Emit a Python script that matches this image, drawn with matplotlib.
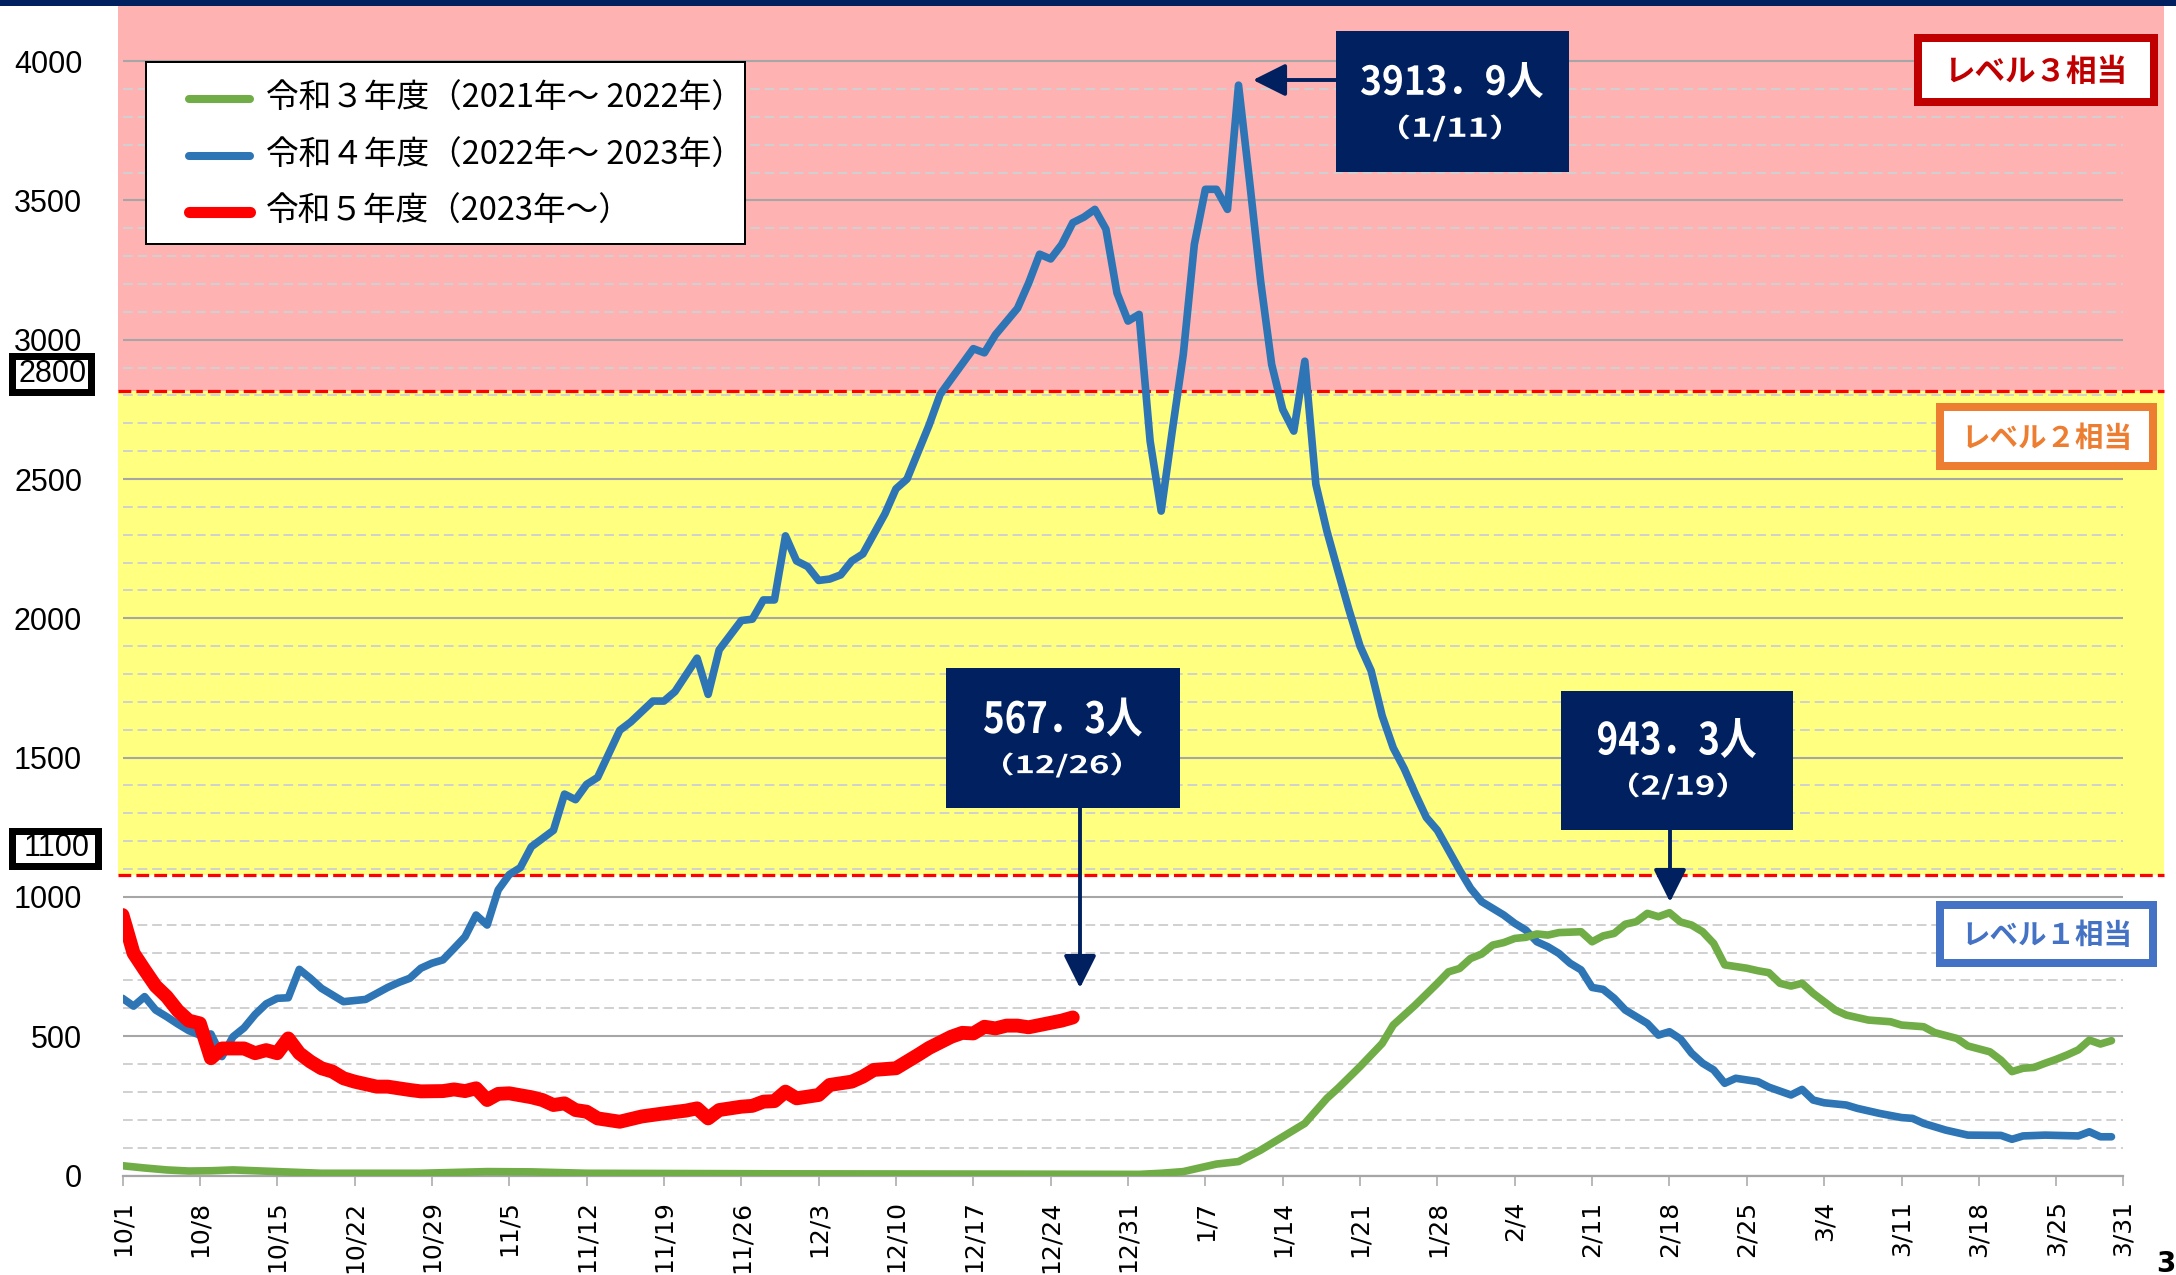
import matplotlib
matplotlib.use("Agg")
import matplotlib.pyplot as plt
from matplotlib.patches import Rectangle, FancyArrowPatch, ArrowStyle, PathPatch
from matplotlib.lines import Line2D
from matplotlib.textpath import TextPath
from matplotlib.font_manager import FontProperties
from matplotlib.transforms import blended_transform_factory, Affine2D, IdentityTransform
import numpy as np

W, H = 2176, 1275
JP = ["Noto Sans CJK JP", "DejaVu Sans"]

# one category per day, 10/1 .. 3/31
month_days = [(10, 31), (11, 30), (12, 31), (1, 31), (2, 28), (3, 31)]
dates = [f"{m}/{d}" for m, n in month_days for d in range(1, n + 1)]
tick_idx = list(range(0, len(dates), 7)) + [len(dates) - 1]

# (day index, value)
r3 = [(0, 35), (2, 27), (4, 20), (6, 16), (8, 17), (10, 20), (14, 14), (18, 8), (27, 8),
      (33, 14), (37, 13), (42, 8), (60, 6), (80, 5), (92, 4), (94, 8), (96, 14), (98, 32),
      (99, 41), (101, 50), (103, 91), (105, 139), (107, 187), (109, 277), (110, 313),
      (112, 391), (114, 474), (115, 540), (117, 612), (119, 690), (120, 731), (121, 743),
      (122, 779), (123, 795), (124, 827), (125, 836), (126, 851), (127, 855), (128, 867),
      (129, 863), (130, 872), (132, 875), (133, 839), (134, 860), (135, 869), (136, 902),
      (137, 911), (138, 941), (139, 929), (140, 943.3), (141, 910), (142, 899), (143, 875),
      (144, 833), (145, 756), (146, 750), (147, 744), (148, 735), (149, 728), (150, 690),
      (151, 680), (152, 690), (153, 654), (154, 624), (155, 594), (156, 576), (158, 558),
      (160, 552), (161, 540), (163, 534), (164, 513), (166, 492), (167, 465), (169, 444),
      (170, 414), (171, 373), (172, 385), (173, 388), (174, 403), (175, 417), (176, 433),
      (177, 451), (178, 486), (179, 472), (180, 484)]

r4 = [(0, 636), (1, 608), (2, 642), (3, 594), (4, 570), (5, 544), (6, 520), (7, 504),
      (8, 508), (9, 427), (10, 498), (11, 530), (12, 578), (13, 616), (14, 636), (15, 638),
      (16, 740), (17, 708), (18, 672), (19, 648), (20, 624), (22, 632), (24, 675), (25, 693),
      (26, 708), (27, 744), (28, 762), (29, 774), (30, 815), (31, 857), (32, 935), (33, 899),
      (34, 1025), (35, 1080), (36, 1105), (37, 1180), (39, 1239), (40, 1369), (41, 1349),
      (42, 1404), (43, 1429), (45, 1598), (46, 1628), (48, 1703), (49, 1703), (50, 1737),
      (52, 1857), (53, 1727), (54, 1887), (56, 1992), (57, 1997), (58, 2066), (59, 2066),
      (60, 2296), (61, 2206), (62, 2186), (63, 2136), (64, 2141), (65, 2156), (66, 2206),
      (67, 2231), (69, 2375), (70, 2465), (71, 2500), (73, 2694), (74, 2804), (75, 2859),
      (77, 2968), (78, 2953), (79, 3018), (81, 3113), (82, 3203), (83, 3307), (84, 3290),
      (85, 3342), (86, 3420), (87, 3440), (88, 3468), (89, 3397), (90, 3168), (91, 3067),
      (92, 3091), (93, 2636), (94, 2385), (95, 2672), (96, 2947), (97, 3342), (98, 3540),
      (99, 3540), (100, 3468), (101, 3913.9), (102, 3569), (103, 3210), (104, 2911),
      (105, 2750), (106, 2672), (107, 2923), (108, 2481), (109, 2313), (110, 2170),
      (111, 2030), (112, 1900), (113, 1812), (114, 1650), (115, 1535), (116, 1460),
      (117, 1370), (118, 1285), (119, 1239), (120, 1168), (121, 1097), (122, 1031),
      (123, 983), (125, 935), (126, 905), (127, 881), (128, 839), (129, 821), (130, 797),
      (131, 762), (132, 738), (133, 675), (134, 668), (135, 636), (136, 594), (137, 570),
      (138, 546), (139, 504), (140, 516), (141, 490), (142, 439), (143, 403), (144, 379),
      (145, 331), (146, 349), (148, 337), (149, 317), (151, 289), (152, 309), (153, 271),
      (154, 261), (156, 253), (157, 241), (159, 223), (161, 208), (162, 205), (163, 187),
      (165, 163), (167, 145), (170, 144), (171, 130), (172, 142), (174, 145), (177, 142),
      (178, 157), (179, 139), (180, 139)]

r5 = [(0, 935), (1, 798), (2, 738), (3, 680), (4, 642), (5, 592), (6, 556), (7, 546),
      (8, 421), (9, 456), (11, 456), (12, 439), (13, 450), (14, 439), (15, 492), (16, 439),
      (17, 409), (18, 385), (19, 373), (20, 349), (21, 337), (23, 319), (24, 319), (26, 307),
      (27, 302), (29, 303), (30, 309), (31, 303), (32, 313), (33, 271), (34, 293), (35, 295),
      (37, 281), (38, 271), (39, 253), (40, 259), (41, 235), (42, 229), (43, 205), (45, 193),
      (47, 212), (49, 223), (51, 233), (52, 241), (53, 205), (54, 235), (56, 247), (57, 250),
      (58, 265), (59, 267), (60, 301), (61, 277), (63, 289), (64, 325), (66, 337), (67, 355),
      (68, 379), (70, 385), (72, 433), (73, 458), (75, 498), (76, 512), (77, 510), (78, 534),
      (79, 528), (80, 538), (81, 538), (82, 532), (83, 540), (85, 556), (86, 567.3)]

labels = ["令和３年度（2021年～ 2022年）", "令和４年度（2022年～ 2023年）", "令和５年度（2023年～）"]
colors = ["#70AD47", "#2E75B6", "#FF0000"]

band_lo, band_hi = 1080, 2815      # drawn level borders
level_ticks = ["2800", "1100"]
level_names = ["レベル３相当", "レベル２相当", "レベル１相当"]
level_colors = ["#C00000", "#ED7D31", "#4472C4"]

callout_vals = [3913.9, 567.3, 943.3]
callout_dates = ["1/11", "12/26", "2/19"]

NAVY = "#002060"


def fx(x):
    return x / W


def fy(y):
    return 1 - y / H


def frame(x0, y0, x1, y1, ec, lw_px, fc="white", z=10):
    r = lw_px / 2
    fig.add_artist(Rectangle((fx(x0 + r), fy(y1 - r)), (x1 - x0 - lw_px) / W,
                             (y1 - y0 - lw_px) / H, transform=fig.transFigure,
                             fc=fc, ec=ec, lw=lw_px * 0.72, zorder=z))


def squeezed(cx, cy, s, w, h, color="white"):
    # narrow bold text, fitted into w x h pixels around (cx, cy)
    tp = TextPath((0, 0), s, size=100, prop=FontProperties(family=JP, weight="bold"))
    bb = tp.get_extents()
    t = (Affine2D().translate(-(bb.x0 + bb.x1) / 2, -(bb.y0 + bb.y1) / 2)
         .scale(w / bb.width, h / bb.height).translate(cx, H - cy))
    fig.add_artist(PathPatch(t.transform_path(tp), transform=IdentityTransform(),
                             fc=color, ec="none", zorder=11))


fig = plt.figure(figsize=(W / 100, H / 100), dpi=100)
ax = fig.add_axes([122.5 / W, 1 - 1175.5 / H, 2000 / W, 1169.5 / H])
ax.set_xlim(0, len(dates) - 1)
ax.set_ylim(0, 4198)
ax.set_facecolor("none")
for s in ("left", "right", "top"):
    ax.spines[s].set_visible(False)
ax.spines["bottom"].set_color("#A6A6A6")
ax.spines["bottom"].set_linewidth(1.6)

# background bands, a bit wider than the axis
tr = blended_transform_factory(fig.transFigure, ax.transData)
bx0, bx1 = fx(118), fx(2164)
ax.add_patch(Rectangle((bx0, band_hi), bx1 - bx0, 4198 - band_hi, transform=tr,
                       fc="#FFB2B2", ec="none", zorder=0.1, clip_on=False))
ax.add_patch(Rectangle((bx0, band_lo), bx1 - bx0, band_hi - band_lo, transform=tr,
                       fc="#FFFF80", ec="none", zorder=0.1, clip_on=False))
for v in (band_lo, band_hi):
    ax.add_line(Line2D([bx0, bx1], [v, v], transform=tr, color="#FF0000", lw=2.3,
                       linestyle=(0, (4, 1.6)), clip_on=False, zorder=2))

fig.add_artist(Rectangle((0, fy(6)), 1, 6 / H, transform=fig.transFigure,
                         fc=NAVY, ec="none", zorder=10))

# grid
ax.set_axisbelow(True)
ax.set_yticks(np.arange(0, 4001, 500))
ax.set_yticks([v for v in range(100, 4000, 100) if v % 500], minor=True)
ax.grid(axis="y", which="major", color="#A6A6A6", lw=1.5)
ax.grid(axis="y", which="minor", color="#D0D0D0", lw=1.4, linestyle=(0, (5, 2.5)))
ax.tick_params(axis="y", which="both", length=0, pad=29, labelsize=22)
for lab in ax.get_yticklabels():
    lab.set_fontfamily("Liberation Sans")

ax.set_xticks(tick_idx)
ax.set_xticklabels([dates[i] for i in tick_idx], rotation=90, fontsize=18,
                   family="DejaVu Sans")
ax.tick_params(axis="x", length=7.2, width=1.1, color="#A6A6A6", pad=10.8)

# series
for data, c, lw, z in zip([r4, r3, r5], [colors[1], colors[0], colors[2]],
                          [5.5, 5.5, 10.0], [4, 5, 6]):
    d, v = zip(*data)
    ax.plot(d, v, color=c, lw=lw, solid_joinstyle="round", solid_capstyle="round",
            zorder=z)

# boxed y labels
for txt, (x0, y0, x1, y1) in zip(level_ticks, [(8, 352, 94, 395), (8, 827, 101, 869)]):
    frame(x0, y0, x1, y1, "black", 7)
    fig.text(fx((x0 + x1) / 2 + 2), fy((y0 + y1) / 2), txt, ha="center", va="center",
             fontsize=22, family="Liberation Sans", zorder=11)

# level labels
for name, c, box, fs in zip(level_names, level_colors,
                            [(1914, 34, 2158, 106), (1936, 403, 2157, 470),
                             (1936, 901, 2157, 967)], [22, 20.5, 20.5]):
    x0, y0, x1, y1 = box
    frame(x0, y0, x1, y1, c, 8)
    fig.text(fx((x0 + x1) / 2), fy((y0 + y1) / 2 + 2), name, ha="center", va="center",
             fontsize=fs, fontweight="bold", color=c, family=JP, zorder=11)

# legend
frame(145, 61, 746, 245, "black", 2)
for lab, c, y, lw in zip(labels, colors, [99, 156, 212], [5.8, 5.8, 8]):
    fig.add_artist(Line2D([fx(189), fx(250)], [fy(y), fy(y)], transform=fig.transFigure,
                          color=c, lw=lw, solid_capstyle="round", zorder=11))
    fig.text(fx(266), fy(y), lab, ha="left", va="center", fontsize=23.5, family=JP,
             zorder=11)

# callouts: box, big value, date, arrow
boxes = [(1336, 31, 1569, 172), (946, 668, 1180, 808), (1561, 691, 1793, 830)]
main_fit = [(1452, 80, 182, 36), (1063, 717, 158, 39), (1677, 738, 158, 40)]
sub_fit = [(1450, 128, 102, 27), (1062, 765, 118, 25), (1678, 786, 98, 27)]
arrows = [((1336, 80), (1253, 80)), ((1080, 808), (1080, 988)), ((1670, 830), (1670, 902))]
for val, dt, box, mf, sf, (tail, tip) in zip(callout_vals, callout_dates, boxes,
                                              main_fit, sub_fit, arrows):
    x0, y0, x1, y1 = box
    fig.add_artist(Rectangle((fx(x0), fy(y1)), (x1 - x0) / W, (y1 - y0) / H,
                             transform=fig.transFigure, fc=NAVY, ec="none", zorder=10))
    squeezed(*mf[:2], f"{val:.1f}".replace(".", "．") + "人", *mf[2:])
    squeezed(*sf[:2], f"（{dt}）", *sf[2:])
    fig.add_artist(FancyArrowPatch((fx(tail[0]), fy(tail[1])), (fx(tip[0]), fy(tip[1])),
                                   transform=fig.transFigure,
                                   arrowstyle=ArrowStyle("-|>", head_length=1.0, head_width=0.5),
                                   mutation_scale=20, lw=2.8, color=NAVY,
                                   shrinkA=0, shrinkB=0, zorder=10))

# page number in the bottom right corner
fig.text(fx(2156), fy(1250), "3", ha="left", va="top", fontsize=20, fontweight="bold")

fig.savefig("out.png", dpi=100)
